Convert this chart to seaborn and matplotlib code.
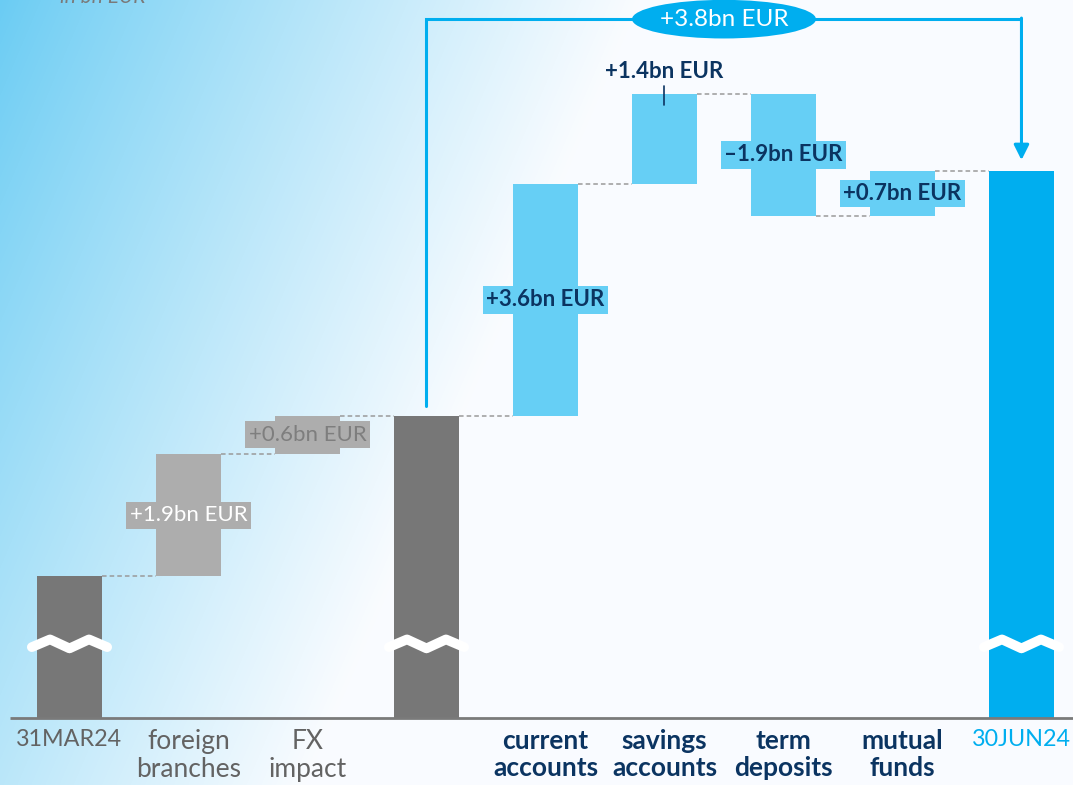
#!/usr/bin/env python3

import numpy as np                  # numbers
import pandas as pd                 # handling data
import matplotlib
matplotlib.use('Agg')
import matplotlib.pyplot as plt     # visual plotting of data
import seaborn as sns               # visual plotting of data
from matplotlib.patches import Ellipse


# Waterfall data (bn EUR); first bar is shown above an axis cut
steps = ['31MAR24', 'foreign branches', 'FX impact', 'subtotal', 'current accounts',
         'savings accounts', 'term deposits', 'mutual funds', '30JUN24']
tick_labels = ['31MAR24', 'foreign\nbranches', 'FX\nimpact', '', 'current\naccounts',
               'savings\naccounts', 'term\ndeposits', 'mutual\nfunds', '30JUN24']
start_level = 2.2
changes = [np.nan, 1.9, 0.6, np.nan, 3.6, 1.4, -1.9, 0.7, np.nan]
value_labels = ['', '+1.9bn EUR', '+0.6bn EUR', '', '+3.6bn EUR', '+1.4bn EUR',
                '\u20131.9bn EUR', '+0.7bn EUR', '']
total_label = '+3.8bn EUR'

DARK_GREY = '#777777'
LIGHT_GREY = '#ADADAD'
LIGHT_BLUE = '#66CFF5'
BLUE = '#00AEEF'
NAVY = '#0B3461'
bar_colors = [DARK_GREY, LIGHT_GREY, LIGHT_GREY, DARK_GREY, LIGHT_BLUE,
              LIGHT_BLUE, LIGHT_BLUE, LIGHT_BLUE, BLUE]
label_colors = ['#636363', '#636363', '#636363', '#636363', NAVY, NAVY, NAVY, NAVY, BLUE]
W = 0.546


def waterfall_table():
    bottoms, heights, tops = [], [], []
    level = start_level
    for i, c in enumerate(changes):
        if i == 0 or np.isnan(c):
            bottoms.append(0.0)
            heights.append(level)
            tops.append(level)
        else:
            new = level + c
            bottoms.append(min(level, new))
            heights.append(abs(c))
            tops.append(new)
            level = new
    return pd.DataFrame({'step': steps, 'bottom': bottoms, 'height': heights, 'level': tops})


df = waterfall_table()

sns.set_style('white')
plt.rcParams['font.family'] = ['Lato', 'DejaVu Sans']

fig = plt.figure(figsize=(10.73, 7.85), dpi=100)
ax = fig.add_axes([0, 0, 1, 1])

sns.barplot(data=df, x='step', y='height', hue='step', palette=bar_colors,
            width=W, saturation=1, linewidth=0, legend=False, ax=ax, zorder=3)

# move floating bars up to their bottoms
for p in ax.patches:
    idx = int(round(p.get_x() + p.get_width() / 2))
    p.set_y(df['bottom'][idx])

XLIM = (-0.584, 8.433)
YLIM = (-1.043, 11.158)
ax.set_xlim(*XLIM)
ax.set_ylim(*YLIM)
ax.axis('off')

# background gradient from the top-left corner
yy, xx = np.mgrid[0:785, 0:1073]
t = np.clip(xx / 640.0 + yy / 1500.0, 0, 1) ** 0.9
c0 = np.array([106, 204, 243]) / 255.0
c1 = np.array([250, 252, 255]) / 255.0
grad = c0[None, None, :] * (1 - t[..., None]) + c1[None, None, :] * t[..., None]
ax.imshow(grad, extent=(XLIM[0], XLIM[1], YLIM[0], YLIM[1]), aspect='auto',
          origin='upper', zorder=0)

# baseline
ax.plot([-0.5, XLIM[1]], [0, 0], color='#7A7A7A', lw=2, zorder=4, solid_capstyle='butt')

# dashed connectors
for i in range(len(df) - 1):
    lvl = df['level'][i]
    ax.plot([i + W / 2, i + 1 - W / 2], [lvl, lvl], color='#9A9A9A', lw=1.1,
            ls=(0, (3, 2)), zorder=2)

# axis-cut marks on full bars
for i in range(len(df)):
    if i == 0 or np.isnan(changes[i]):
        xs = i + np.array([-0.58, -0.3, 0.0, 0.3, 0.58]) * W
        ys = 1.1 + np.array([0.0, 0.12, -0.02, 0.12, 0.0])
        ax.plot(xs, ys, color='white', lw=7, zorder=5, solid_joinstyle='round')

# category labels (dates a bit smaller so they fit)
for i, lab in enumerate(tick_labels):
    weight = 'bold' if label_colors[i] == NAVY else 'normal'
    size = 19 if '\n' in lab else 16.8
    ax.text(i, -0.17, lab, ha='center', va='top', fontsize=size, color=label_colors[i],
            fontweight=weight, linespacing=1.18)

# value labels
box_specs = {
    1: dict(tc='white', fc=LIGHT_GREY, weight='normal'),
    2: dict(tc='#7E7E7E', fc=LIGHT_GREY, weight='normal'),
    4: dict(tc=NAVY, fc=LIGHT_BLUE, weight='bold'),
    6: dict(tc=NAVY, fc=LIGHT_BLUE, weight='bold'),
    7: dict(tc=NAVY, fc=LIGHT_BLUE, weight='bold'),
}
for i, spec in box_specs.items():
    yc = df['bottom'][i] + df['height'][i] / 2
    ax.text(i, yc, value_labels[i], ha='center', va='center', fontsize=16,
            color=spec['tc'], fontweight=spec['weight'], zorder=6,
            bbox=dict(boxstyle='square,pad=0.15', fc=spec['fc'], ec='none'))

# label above savings accounts with a leader line
top_sav = df['level'][5]
ax.text(5, top_sav + 0.34, value_labels[5], ha='center', va='center', fontsize=16,
        color=NAVY, fontweight='bold', zorder=6)
ax.plot([5, 5], [top_sav + 0.12, top_sav - 0.17], color=NAVY, lw=1.2, zorder=6)

# total change arrow from subtotal to end
y_arrow = 10.86
start_top = df['level'][3]
end_top = df['level'][8]
ax.plot([3, 3, 8], [start_top + 0.15, y_arrow, y_arrow], color=BLUE, lw=2.2, zorder=6,
        solid_joinstyle='miter')
ax.annotate('', xy=(8, end_top + 0.17), xytext=(8, y_arrow + 0.017),
            arrowprops=dict(arrowstyle='-|>,head_length=0.9,head_width=0.45', color=BLUE,
                            lw=2.2, shrinkA=0, shrinkB=0), zorder=6)
ax.add_patch(Ellipse((5.5, y_arrow), 1.546, 0.6, fc=BLUE, ec='none', zorder=7))
ax.text(5.5, y_arrow, total_label, ha='center', va='center', fontsize=17.5,
        color='white', zorder=8)

# unit note, mostly cut at the top edge
ax.text(-0.08, 11.11, 'in bn EUR', ha='left', va='baseline', fontsize=15,
        color='#7A7A7A', style='italic', zorder=6)

plt.savefig('out.png', dpi=100)
